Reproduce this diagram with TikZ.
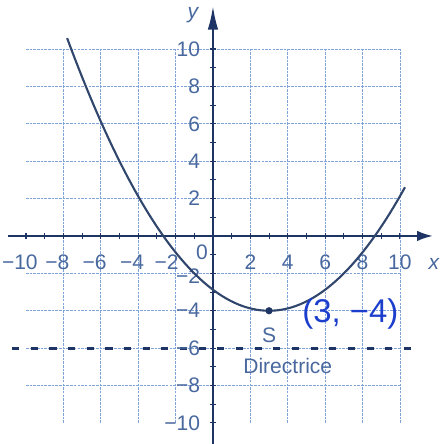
\documentclass[tikz,border=0pt]{standalone}
\usepackage{fontspec}
\setmainfont{Liberation Sans}
\usetikzlibrary{arrows.meta}
\definecolor{gridblue}{RGB}{128,162,218}
\definecolor{axisnavy}{RGB}{30,52,100}
\definecolor{curveslate}{RGB}{48,70,108}
\definecolor{labelblue}{RGB}{72,104,158}
\definecolor{inkblue}{RGB}{28,62,205}

\begin{document}
\begin{tikzpicture}[
    x=0.5cm, y=0.5cm,
    every node/.style={font=\fontsize{16}{18}\selectfont, text=labelblue, inner sep=0pt},
    gridline/.style={gridblue, line width=0.6pt, dash pattern=on 2pt off 0.8pt},
    axis/.style={axisnavy, line width=1.6pt},
    tick/.style={axisnavy, line width=0.8pt},
    curve/.style={curveslate, line width=1.6pt},
    directrix/.style={axisnavy, line width=2.3pt, dash pattern=on 5.5pt off 8.7pt}
  ]
    \useasboundingbox (-11.39,-11.12) rectangle (12.41,12.62);

    % grid and directrix
    \draw[gridline] (-10,-10) grid (10,10);
    \draw[directrix] (-10.75,-6) -- (10.75,-6);

    % axes
    \draw[axis, -{Latex[length=12pt,width=8pt]}] (-10.95,0) -- (11.76,0);
    \draw[axis, -{Latex[length=18pt,width=8pt]}] (0,-11.12) -- (0,12.3);
    \foreach \i in {-10,...,10} {
      \draw[tick] (\i,-0.18) -- (\i,0.18);
      \draw[tick] (-0.18,\i) -- (0.18,\i);
    }
    \node[font=\fontsize{16}{18}\selectfont\itshape] (ylab) at (-1.07,11.82) {y};
    \node[font=\fontsize{16}{18}\selectfont\itshape] (xlab) at (11.82,-1.5) {x};

    % tick labels
    \foreach \v in {4,6,...,10} {
      \node (xn\v) at (-\v,-1.39) {\llap{−}\v};
      \node[anchor=east] (yn\v) at (-0.68,-\v) {−\v};
    }
    \foreach \v in {2,4,...,10} {
      \node (xp\v) at (\v,-1.39) {\v};
      \node[anchor=east] (yp\v) at (-0.68,\v) {\v};
    }
    \node (xn2) at (-2.15,-1.39) {\llap{−}2};
    \node[anchor=east] (yn2) at (-0.68,-2.15) {−2};
    \node (origin) at (-0.59,-0.88) {0};

    % parabola with vertex S
    \draw[curve, domain=-7.8:10.27, samples=90] plot (\x, {(\x-3)^2/8-4});
    \node[circle, fill=axisnavy, minimum size=5.5pt] (S) at (3,-4) {};
    \node (slab) at (3,-5.3) {S};
    \node (dlab) at (4.0,-6.95) {Directrice};
    \node[font=\fontsize{25}{27}\selectfont, text=inkblue] (note) at (7.35,-4.15) {(3, −4)};
  \end{tikzpicture}
\end{document}
